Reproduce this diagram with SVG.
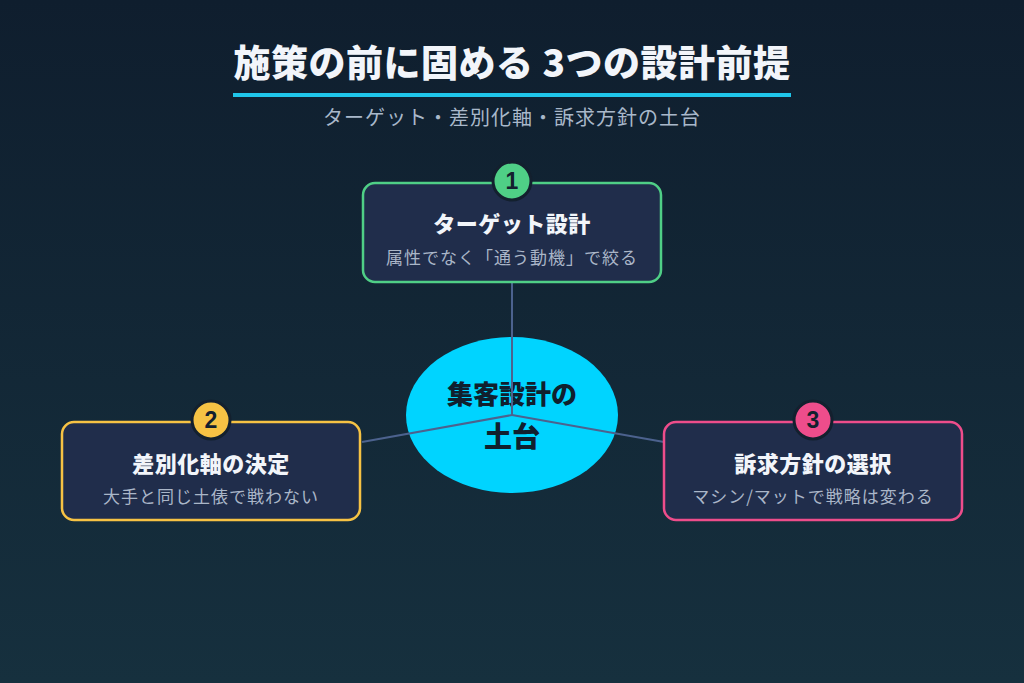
<svg xmlns="http://www.w3.org/2000/svg" width="1024" height="683" viewBox="0 0 1024 683">
<defs>
<linearGradient id="bg" x1="0" y1="0" x2="0" y2="1">
<stop offset="0" stop-color="#0f1e2e"/>
<stop offset="1" stop-color="#16303e"/>
</linearGradient>
<style>
text{font-family:"Noto Sans CJK JP","Noto Sans",sans-serif;text-anchor:middle}
.title{font-size:37px;font-weight:900;fill:#f2f5fa;letter-spacing:0.5px}
.sub{font-size:20px;fill:#a9b8ca;letter-spacing:1px}
.box{fill:#202d4b;stroke-width:2.5}
.ht{font-size:22px;font-weight:900;fill:#f2f5fa;letter-spacing:0.5px}
.hs{font-size:17px;fill:#aab6c8;letter-spacing:1px}
.badge{stroke:#13202e;stroke-width:3}
.bn{font-size:23px;font-weight:900;fill:#13202e;font-family:"Liberation Sans","Noto Sans",sans-serif}
.conn{stroke:#4c628e;stroke-width:2;fill:none}
.ct{font-size:26px;font-weight:900;fill:#10202e}
</style>
</defs>
<rect width="1024" height="683" fill="url(#bg)"/>
<g id="title">
<text class="title" x="512" y="77">施策の前に固める 3つの設計前提</text>
<rect x="233" y="93" width="558" height="4" fill="#1fc6ea"/>
<text class="sub" x="512" y="125">ターゲット・差別化軸・訴求方針の土台</text>
</g>
<g id="center">
<ellipse cx="512" cy="415" rx="106" ry="78" fill="#00d4ff"/>
<text class="ct" x="512" y="404">集客設計の</text>
<text class="ct" x="512" y="447" style="font-size:28px">土台</text>
</g>
<g id="connectors">
<line class="conn" x1="512" y1="415" x2="512" y2="283"/>
<line class="conn" x1="512" y1="415" x2="362" y2="442"/>
<line class="conn" x1="512" y1="415" x2="664" y2="442"/>
</g>
<g id="node1">
<rect class="box" x="363" y="183" width="298" height="99" rx="12" stroke="#4fcf86"/>
<circle class="badge" cx="512" cy="181" r="19" fill="#4fcf86"/>
<text class="bn" x="512" y="189">1</text>
<text class="ht" x="512" y="232">ターゲット設計</text>
<text class="hs" x="512" y="264">属性でなく「通う動機」で絞る</text>
</g>
<g id="node2">
<rect class="box" x="62" y="422" width="298" height="98" rx="12" stroke="#f6c244"/>
<circle class="badge" cx="211" cy="420" r="19" fill="#f6c244"/>
<text class="bn" x="211" y="428">2</text>
<text class="ht" x="211" y="472">差別化軸の決定</text>
<text class="hs" x="211" y="503">大手と同じ土俵で戦わない</text>
</g>
<g id="node3">
<rect class="box" x="664" y="422" width="298" height="98" rx="12" stroke="#ee4d8b"/>
<circle class="badge" cx="813" cy="420" r="19" fill="#ee4d8b"/>
<text class="bn" x="813" y="428">3</text>
<text class="ht" x="813" y="472">訴求方針の選択</text>
<text class="hs" x="813" y="503">マシン/マットで戦略は変わる</text>
</g>
</svg>
